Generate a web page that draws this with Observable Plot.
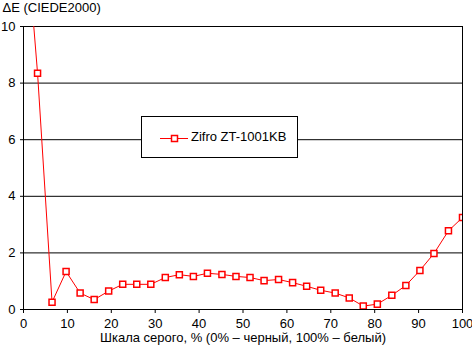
<!DOCTYPE html>
<html>
<head>
<meta charset="utf-8">
<script src="https://cdn.jsdelivr.net/npm/d3@7"></script>
<script src="https://cdn.jsdelivr.net/npm/@observablehq/plot@0.6"></script>
<style>
  html, body { margin: 0; padding: 0; background: #fff; }
  #wrap { position: relative; width: 472px; height: 352px; font-family: "Liberation Sans", Arial, sans-serif; }
  #legend { position: absolute; left: 141px; top: 116px; width: 155px; height: 40px; border: 1px solid #000; background: #fff; font-size: 13px; }
  #legend svg { position: absolute; left: 18px; top: 17px; }
  #legend span { position: absolute; left: 49px; top: 12px; white-space: nowrap; }
</style>
</head>
<body>
<div id="wrap"></div>
<script>
const seriesName = "Zifro ZT-1001KB";
const titleText = "ΔE (CIEDE2000)";
const xLabel = "Шкала серого, % (0% – черный, 100% – белый)";
const grayLevels = [0, 3.2, 6.5, 9.7, 12.9, 16.1, 19.4, 22.6, 25.8, 29.0, 32.3, 35.5, 38.7, 41.9, 45.2, 48.4, 51.6, 54.8, 58.1, 61.3, 64.5, 67.7, 71.0, 74.2, 77.4, 80.6, 83.9, 87.1, 90.3, 93.5, 96.8, 100];
const deltaE = [14.5, 8.35, 0.26, 1.34, 0.58, 0.35, 0.65, 0.89, 0.89, 0.89, 1.13, 1.23, 1.17, 1.28, 1.24, 1.17, 1.13, 1.02, 1.06, 0.95, 0.82, 0.68, 0.58, 0.41, 0.12, 0.19, 0.50, 0.85, 1.38, 1.98, 2.78, 3.25];
const xTicks = [0, 10, 20, 30, 40, 50, 60, 70, 80, 90, 100];
const yTicks = [0, 2, 4, 6, 8, 10];

const data = grayLevels.map((x, i) => ({x, y: deltaE[i]}));
const red = "#ff0000";

const chart = Plot.plot({
  width: 472,
  height: 352,
  marginLeft: 23,
  marginRight: 10,
  marginTop: 26,
  marginBottom: 43,
  style: {background: "#fff", fontFamily: "'Liberation Sans', Arial, sans-serif", fontSize: "13px", color: "#000"},
  x: {domain: [0, 100]},
  y: {domain: [0, 10]},
  marks: [
    Plot.gridY(yTicks, {stroke: "#000", strokeOpacity: 1, strokeWidth: 1}),
    Plot.frame({stroke: "#000", strokeWidth: 1}),
    Plot.axisX({ticks: xTicks, tickSize: 4, tickPadding: 5, label: null, fontSize: 13}),
    Plot.axisY({ticks: yTicks, tickSize: 3, tickPadding: 5, label: null, fontSize: 13}),
    Plot.line(data, {x: "x", y: "y", stroke: red, strokeWidth: 1, clip: true}),
    Plot.dot(data, {x: "x", y: "y", symbol: "square", r: 3.4, stroke: red, strokeWidth: 1.5, fill: "#fff", clip: true}),
    Plot.text([titleText], {frameAnchor: "top-left", textAnchor: "start", lineAnchor: "top", dx: -21, dy: -24, fontSize: 13}),
    Plot.text([xLabel], {frameAnchor: "bottom", lineAnchor: "top", dy: 23, fontSize: 13})
  ]
});

const wrap = document.getElementById("wrap");
wrap.appendChild(chart);
const legend = document.createElement("div");
legend.id = "legend";
legend.innerHTML = `<svg width="28" height="9" viewBox="0 0 28 9"><line x1="0" y1="4.5" x2="28" y2="4.5" stroke="${red}" stroke-width="1"/><rect x="11.5" y="1.5" width="6" height="6" fill="#fff" stroke="${red}" stroke-width="1.5"/></svg><span></span>`;
legend.querySelector("span").textContent = seriesName;
wrap.appendChild(legend);
</script>
</body>
</html>
